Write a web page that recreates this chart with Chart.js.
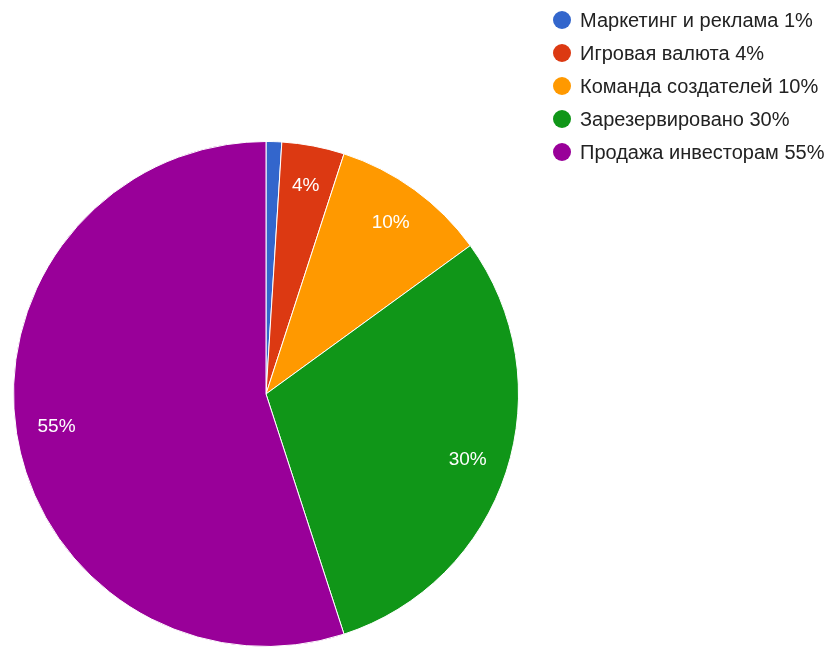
<!DOCTYPE html>
<html><head><meta charset="utf-8">
<script src="https://cdn.jsdelivr.net/npm/chart.js@4"></script>
<style>html,body{margin:0;padding:0;background:#fff}#w{width:832px;height:666px}</style>
</head><body><div id="w"><canvas id="c" width="832" height="666"></canvas></div>
<script>
const categories = ["Маркетинг и реклама", "Игровая валюта", "Команда создателей", "Зарезервировано", "Продажа инвесторам"];
const values = [1, 4, 10, 30, 55];
const colors = ["#3366cc", "#dc3912", "#ff9900", "#109618", "#990099"];

const total = values.reduce((a,b)=>a+b,0);
const pct = v => Math.round(v/total*100) + "%";

const sliceLabels = {
  id: 'sliceLabels',
  afterDatasetsDraw(chart) {
    const ctx = chart.ctx;
    const meta = chart.getDatasetMeta(0);
    ctx.save();
    ctx.font = '19px "Liberation Sans", Arial, sans-serif';
    ctx.fillStyle = '#ffffff';
    ctx.textAlign = 'center';
    ctx.textBaseline = 'middle';
    meta.data.forEach((arc, i) => {
      const v = values[i];
      if (v/total < 0.03) return;
      const mid = (arc.startAngle + arc.endAngle)/2;
      const r = arc.outerRadius * 0.84;
      ctx.fillText(pct(v), arc.x + Math.cos(mid)*r, arc.y + Math.sin(mid)*r);
    });
    ctx.restore();
  }
};

const sideLegend = {
  id: 'sideLegend',
  afterDraw(chart) {
    const ctx = chart.ctx;
    ctx.save();
    ctx.font = '20px "Liberation Sans", Arial, sans-serif';
    ctx.textBaseline = 'middle';
    ctx.textAlign = 'left';
    categories.forEach((c, i) => {
      const y = 20 + i*33;
      ctx.beginPath();
      ctx.arc(562, y, 9, 0, Math.PI*2);
      ctx.fillStyle = colors[i];
      ctx.fill();
      ctx.fillStyle = '#222222';
      ctx.fillText(c + ' ' + pct(values[i]), 580, y + 1);
    });
    ctx.restore();
  }
};

new Chart(document.getElementById('c'), {
  type: 'pie',
  data: {
    labels: categories,
    datasets: [{
      data: values,
      backgroundColor: colors,
      borderColor: '#ffffff',
      borderWidth: 1
    }]
  },
  options: {
    responsive: false,
    animation: false,
    layout: { padding: { left: 13, right: 313, top: 141, bottom: 19 } },
    plugins: {
      legend: { display: false },
      tooltip: { enabled: false }
    }
  },
  plugins: [sliceLabels, sideLegend]
});
</script>
</body></html>
